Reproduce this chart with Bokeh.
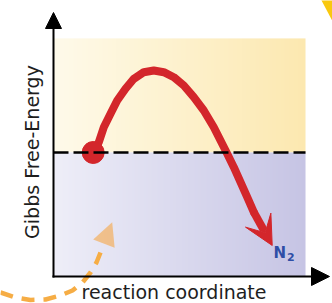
import numpy as np
from bokeh.plotting import figure
from bokeh.models import Range1d, Arrow, NormalHead, VeeHead, Label
from bokeh.embed import file_html
from bokeh.resources import INLINE

# ---- data (reaction coordinate vs Gibbs free energy, arbitrary units) ----
reaction_coord = [1.667, 1.798, 1.996, 2.262, 2.528, 2.857, 3.187, 3.583, 3.980, 4.377,
                  4.774, 5.171, 5.567, 5.964, 6.361, 6.627, 6.893, 7.155, 7.421, 7.687,
                  7.948]
free_energy = [0.161, 0.415, 1.020, 1.560, 2.097, 2.569, 2.972, 3.238, 3.306, 3.238,
               3.036, 2.702, 2.230, 1.694, 1.020, 0.484, -0.052, -0.593, -1.198, -1.802,
               -2.407]
product_coord = 8.679
product_energy = -3.750
start_coord = 1.575
start_energy = 0.0
reference_level = 0.0
coord_min, coord_max = 0.0, 10.0
energy_min, energy_max = -5.0, 4.6
axis_x_tip = 10.952
axis_y_tip = 5.645
guide_x = [-2.103, -1.508, -0.913, -0.317, 0.278, 0.754, 1.151, 1.468, 1.706, 1.865]
guide_y = [-5.645, -5.847, -5.948, -5.927, -5.766, -5.565, -5.242, -4.839, -4.435, -4.032]
guide_tip_x, guide_tip_y = 2.329, -2.810
x_title = "reaction coordinate"
y_title = "Gibbs Free-Energy"
product_label = "N"
product_sub = "2"

p = figure(width=332, height=303,
           x_range=Range1d(-2.103, 11.071), y_range=Range1d(-6.089, 6.129),
           x_axis_type=None, y_axis_type=None,
           output_backend="svg", toolbar_location=None, min_border=0)
p.grid.visible = False
p.outline_line_color = None
p.background_fill_color = "white"
p.border_fill_color = "white"


def gradient(left, right, cols=252):
    t = np.linspace(0.0, 1.0, cols)
    img = np.empty((1, cols), dtype=np.uint32)
    v = img.view(dtype=np.uint8).reshape((1, cols, 4))
    for k in range(3):
        v[0, :, k] = np.round(left[k] + (right[k] - left[k]) * t).astype(np.uint8)
    v[0, :, 3] = 255
    return img


# shaded regions
p.image_rgba(image=[gradient((254, 250, 234), (252, 232, 176))],
             x=coord_min, y=reference_level, dw=coord_max - coord_min,
             dh=energy_max - reference_level)
p.image_rgba(image=[gradient((238, 238, 248), (198, 196, 228))],
             x=coord_min, y=energy_min, dw=coord_max - coord_min,
             dh=reference_level - energy_min)

# orange guide arrow
p.line(guide_x, guide_y, line_color="#f6ad45", line_width=4.5, line_dash="13 9")
p.add_layout(Arrow(x_start=guide_x[-1], y_start=guide_y[-1],
                   x_end=guide_tip_x, y_end=guide_tip_y, line_alpha=0,
                   end=NormalHead(size=23, fill_color="#f1b978", fill_alpha=0.85,
                                  line_color=None)))

# yellow corner decoration
p.patch([10.615, 11.389, 11.389], [6.169, 6.169, 4.677],
        fill_color="#f9c80e", line_color=None)

# energy profile
red = "#d3262b"
p.line(reaction_coord, free_energy, line_color=red, line_width=8,
       line_cap="round", line_join="round")
p.add_layout(Arrow(x_start=reaction_coord[-1], y_start=free_energy[-1],
                   x_end=product_coord, y_end=product_energy,
                   line_color=red, line_width=8,
                   end=VeeHead(size=29, fill_color=red, line_color=red, line_width=1)))
p.scatter([start_coord], [start_energy], size=22, color=red)

# reference dashed level
p.line([coord_min, coord_max], [reference_level, reference_level],
       line_color="black", line_width=2.6, line_dash="15 5")

# axes with arrows
p.add_layout(Arrow(x_start=coord_min, y_start=energy_min - 0.04,
                   x_end=coord_min, y_end=axis_y_tip, line_width=2, line_color="black",
                   end=NormalHead(size=16, fill_color="black", line_color="black")))
p.add_layout(Arrow(x_start=coord_min - 0.04, y_start=energy_min,
                   x_end=axis_x_tip, y_end=energy_min, line_width=2, line_color="black",
                   end=NormalHead(size=18, fill_color="black", line_color="black")))

# texts
p.add_layout(Label(x=-0.853, y=0.02, text=y_title, angle=np.pi / 2,
                   text_align="center", text_baseline="middle",
                   text_font="DejaVu Sans", text_font_size="19px", text_color="#1e1e1e"))
p.add_layout(Label(x=4.782, y=-5.645, text=x_title,
                   text_align="center", text_baseline="middle",
                   text_font="DejaVu Sans", text_font_size="19px", text_color="#1e1e1e"))
p.add_layout(Label(x=8.730, y=-4.052, text=product_label,
                   text_align="left", text_baseline="middle",
                   text_font="DejaVu Sans", text_font_style="bold",
                   text_font_size="15px", text_color="#2e4ea6"))
p.add_layout(Label(x=9.266, y=-4.234, text=product_sub,
                   text_align="left", text_baseline="middle",
                   text_font="DejaVu Sans", text_font_style="bold",
                   text_font_size="11px", text_color="#2e4ea6"))

open("out.html", "w").write(file_html(p, INLINE))
